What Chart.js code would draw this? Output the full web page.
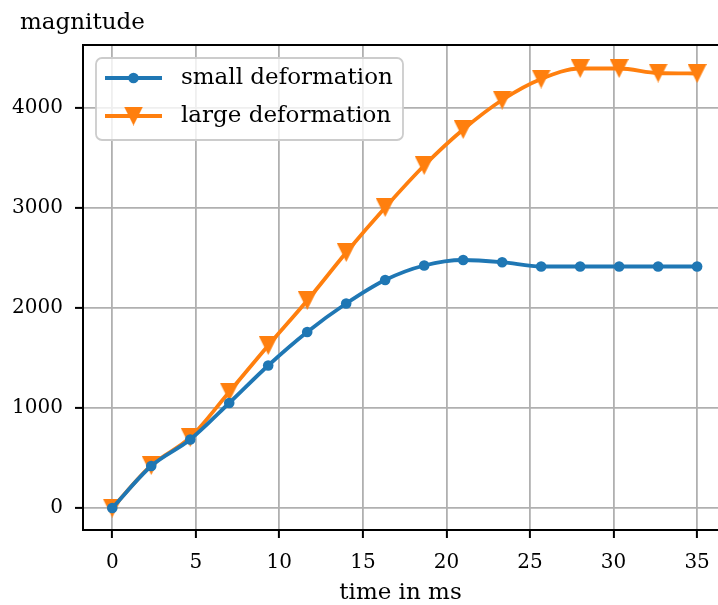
<!DOCTYPE html>
<html>
<head>
<meta charset="utf-8">
<script src="https://cdn.jsdelivr.net/npm/chart.js@4.4.0/dist/chart.umd.min.js"></script>
<style>
  html, body { margin: 0; padding: 0; background: #fff; overflow: hidden; }
  canvas { display: block; }
</style>
</head>
<body>
<canvas id="deformChart" width="718" height="605"></canvas>
<script>
// sample times (ms)
var timeMs = [0, 2.333, 4.667, 7, 9.333, 11.667, 14, 16.333, 18.667, 21, 23.333, 25.667, 28, 30.333, 32.667, 35];
// magnitude for both models
var smallDeformation = [0, 420, 685, 1050, 1425, 1760, 2045, 2280, 2425, 2480, 2458, 2415, 2415, 2415, 2415, 2415];
var largeDeformation = [0, 425, 705, 1160, 1625, 2075, 2555, 3005, 3425, 3785, 4080, 4290, 4395, 4395, 4350, 4345];
var xTicks = [0, 5, 10, 15, 20, 25, 30, 35];
var yTicks = [0, 1000, 2000, 3000, 4000];
var seriesNames = ['small deformation', 'large deformation'];

var BLUE = '#1f77b4';
var ORANGE = '#ff7f0e';
var FONT = "'DejaVu Serif', serif";
var SPINE = 2;

// downward triangle marker
function makeTriangle(size, color) {
    var c = document.createElement('canvas');
    c.width = size;
    c.height = size;
    var g = c.getContext('2d');
    g.fillStyle = color;
    g.beginPath();
    g.moveTo(0, 0);
    g.lineTo(size, 0);
    g.lineTo(size / 2, size);
    g.closePath();
    g.fill();
    return c;
}
var triMarker = makeTriangle(19, ORANGE);

function toPoints(xs, ys) {
    return xs.map((x, i) => ({ x: x, y: ys[i] }));
}

// y label above the axis + top frame line
var axesExtras = {
    id: 'axesExtras',
    afterDatasetsDraw(chart) {
        var a = chart.chartArea, ctx = chart.ctx;
        ctx.save();
        ctx.strokeStyle = '#000';
        ctx.lineWidth = SPINE;
        ctx.beginPath();
        ctx.moveTo(a.left - SPINE / 2, a.top);
        ctx.lineTo(a.right, a.top);
        ctx.stroke();

        ctx.fillStyle = '#000';
        ctx.font = '23px ' + FONT;
        ctx.textAlign = 'left';
        ctx.textBaseline = 'alphabetic';
        ctx.fillText('magnitude', 20, 29);
        ctx.restore();
    }
};

// legend box in the upper left of the plot
var boxLegend = {
    id: 'boxLegend',
    afterDatasetsDraw(chart) {
        var ctx = chart.ctx;
        var bx = 96, by = 58, bw = 307, bh = 82, r = 6;
        ctx.save();
        ctx.beginPath();
        ctx.moveTo(bx + r, by);
        ctx.arcTo(bx + bw, by, bx + bw, by + bh, r);
        ctx.arcTo(bx + bw, by + bh, bx, by + bh, r);
        ctx.arcTo(bx, by + bh, bx, by, r);
        ctx.arcTo(bx, by, bx + bw, by, r);
        ctx.closePath();
        ctx.fillStyle = 'rgba(255,255,255,0.8)';
        ctx.fill();
        ctx.strokeStyle = '#cccccc';
        ctx.lineWidth = 1.8;
        ctx.stroke();

        chart.data.datasets.forEach((ds, i) => {
            var y = 78 + i * 38;
            ctx.strokeStyle = ds.borderColor;
            ctx.lineWidth = ds.borderWidth;
            ctx.beginPath();
            ctx.moveTo(105, y);
            ctx.lineTo(162, y);
            ctx.stroke();
            ctx.fillStyle = ds.borderColor;
            Chart.helpers.drawPoint(ctx, {
                pointStyle: ds.pointStyle,
                radius: ds.pointRadius,
                borderWidth: 0
            }, 133.5, y);
            ctx.fillStyle = '#000';
            ctx.font = '23px ' + FONT;
            ctx.textAlign = 'left';
            ctx.textBaseline = 'middle';
            ctx.fillText(ds.label, 181, y);
        });
        ctx.restore();
    }
};

Chart.defaults.font.family = FONT;
Chart.defaults.font.size = 20;
Chart.defaults.color = '#000';

var gridStyle = { color: '#b0b0b0', lineWidth: 1.8, tickColor: '#000', tickLength: 8, tickWidth: SPINE };

var ctx = document.getElementById('deformChart').getContext('2d');
var DeformChart = new Chart(ctx, {
    type: 'line',
    data: {
        datasets: [{
            label: seriesNames[0],
            data: toPoints(timeMs, smallDeformation),
            borderColor: BLUE,
            backgroundColor: BLUE,
            borderWidth: 3.8,
            pointStyle: 'circle',
            pointRadius: 5.3,
            pointBorderWidth: 0,
            pointBackgroundColor: BLUE,
            cubicInterpolationMode: 'monotone',
            fill: false
        }, {
            label: seriesNames[1],
            data: toPoints(timeMs, largeDeformation),
            borderColor: ORANGE,
            backgroundColor: ORANGE,
            borderWidth: 3.8,
            pointStyle: triMarker,
            pointRadius: 9,
            pointBorderWidth: 0,
            cubicInterpolationMode: 'monotone',
            fill: false
        }]
    },
    options: {
        responsive: false,
        devicePixelRatio: 1,
        animation: false,
        events: [],
        layout: { autoPadding: false, padding: { left: 0, top: 45, right: 0, bottom: 0 } },
        plugins: {
            legend: { display: false },
            tooltip: { enabled: false },
            title: { display: false }
        },
        scales: {
            x: {
                type: 'linear',
                min: -1.75,
                max: 36.25,
                afterBuildTicks: (scale) => { scale.ticks = xTicks.map(v => ({ value: v })); },
                afterFit: (scale) => {
                    scale.height = 75;
                    scale.paddingLeft = 0;
                    scale.paddingRight = 0;
                },
                ticks: { padding: 13, maxRotation: 0, callback: (v) => String(v) },
                grid: gridStyle,
                border: { color: '#000', width: SPINE },
                title: { display: true, text: 'time in ms', font: { size: 23, lineHeight: 1.0 }, padding: { top: 0, bottom: 0 } }
            },
            y: {
                min: -220,
                max: 4630,
                afterBuildTicks: (scale) => { scale.ticks = yTicks.map(v => ({ value: v })); },
                afterFit: (scale) => {
                    scale.width = 83;
                    scale.paddingTop = 0;
                    scale.paddingBottom = 0;
                },
                ticks: { padding: 12, callback: (v) => String(v) },
                grid: gridStyle,
                border: { color: '#000', width: SPINE }
            }
        }
    },
    plugins: [axesExtras, boxLegend]
});
</script>
</body>
</html>
